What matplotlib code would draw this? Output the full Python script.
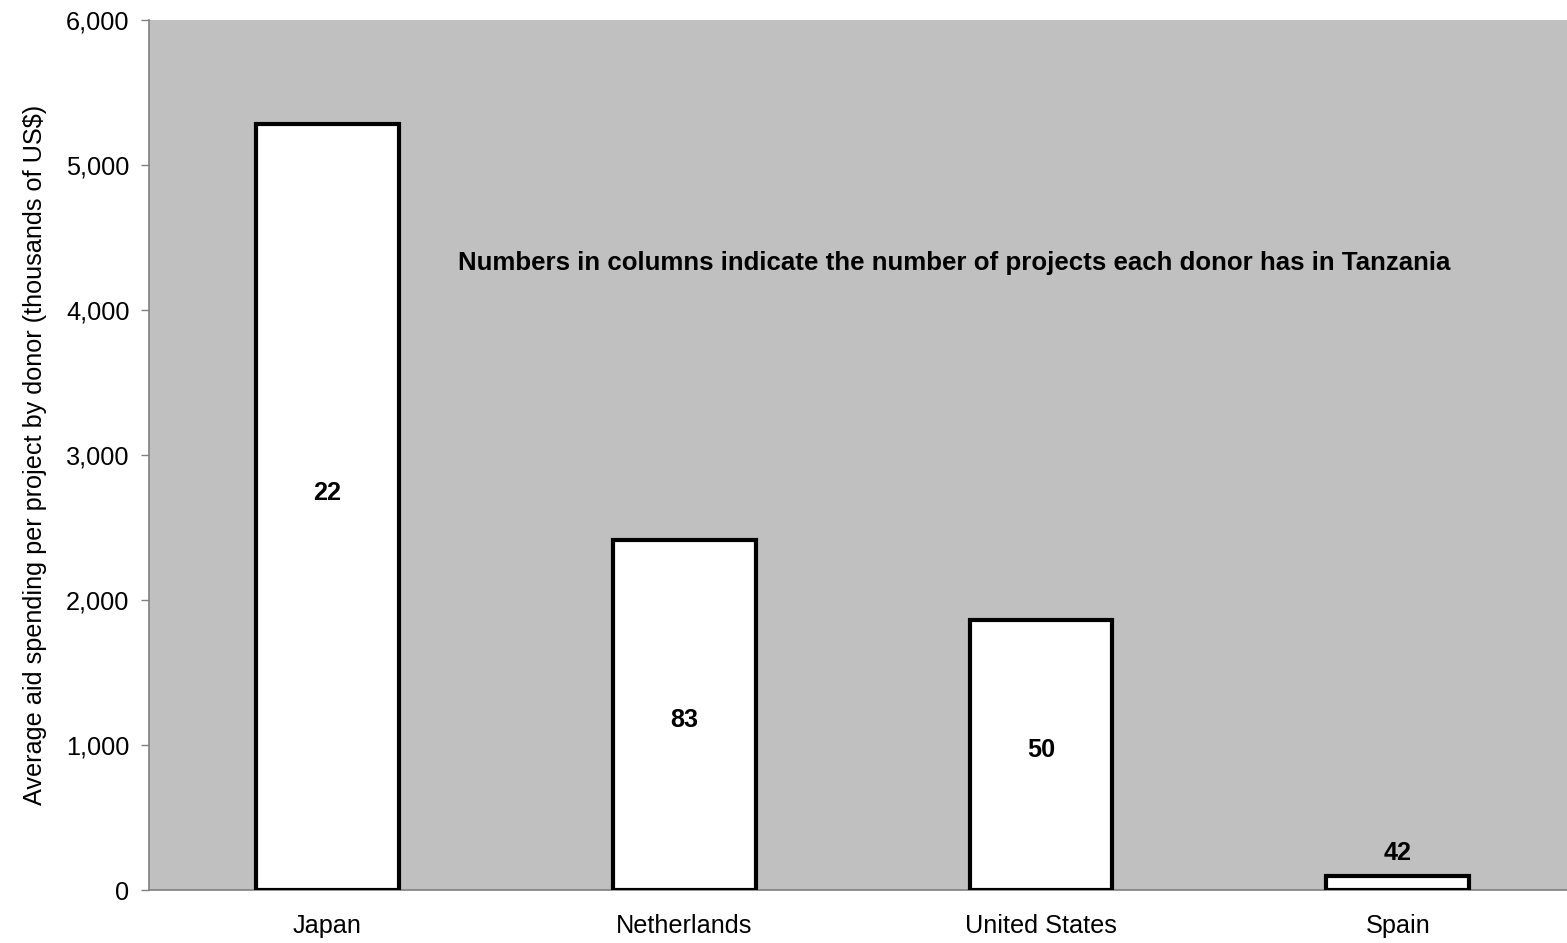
import matplotlib
matplotlib.use("Agg")
import matplotlib.pyplot as plt
from matplotlib.ticker import FuncFormatter, MultipleLocator

plt.rcParams["font.family"] = ["Liberation Sans", "DejaVu Sans"]

donors = ["Japan", "Netherlands", "United States", "Spain"]
avg_spending = [5280, 2417, 1862, 100]          # thousands of US$
project_counts = [22, 83, 50, 42]
count_label_y = [2740, 1170, 965, 255]            # vertical placement of count labels

FS = 18.2

fig = plt.figure(figsize=(15.67, 9.43), dpi=100)
ax = fig.add_axes([0.0951, 0.0562, 0.9107, 0.9226])
ax.set_facecolor("#C0C0C0")

xpos = [i + 0.5 for i in range(len(donors))]
ax.bar(xpos, avg_spending, width=0.4, color="white", edgecolor="black",
       linewidth=3, zorder=3)

for x, n, y in zip(xpos, project_counts, count_label_y):
    ax.text(x, y, str(n), ha="center", va="center", fontsize=FS,
            fontweight="bold", color="black", zorder=4)

ax.text(2.256, 4324,
        "Numbers in columns indicate the number of projects each donor has in Tanzania",
        ha="center", va="center", fontsize=18.6, fontweight="bold", color="black")

ax.set_xlim(0, 4)
ax.set_ylim(0, 6000)
ax.set_xticks(xpos)
ax.set_xticklabels(donors, fontsize=FS)
ax.yaxis.set_major_locator(MultipleLocator(1000))
ax.yaxis.set_major_formatter(FuncFormatter(lambda v, p: f"{int(v):,}"))
ax.tick_params(axis="y", labelsize=FS, length=6, width=1, color="#808080",
               pad=8, direction="out")
ax.tick_params(axis="x", length=0, pad=17)

for side in ("top", "right"):
    ax.spines[side].set_visible(False)
for side in ("left", "bottom"):
    ax.spines[side].set_color("#808080")
    ax.spines[side].set_linewidth(1.2)

ax.set_ylabel("Average aid spending per project by donor (thousands of US$)",
              fontsize=FS, labelpad=14)

fig.savefig("out.png", dpi=100)
